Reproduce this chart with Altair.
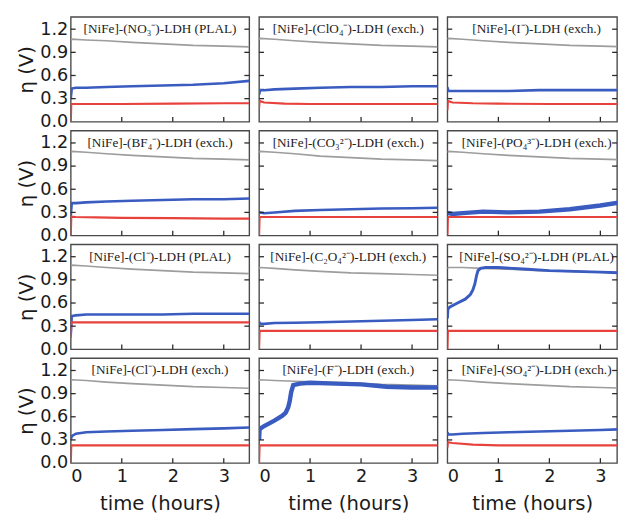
import altair as alt
import pandas as pd

# ---------------- data ----------------
LABELS = [
    "[NiFe]-(NO₃⁻)-LDH (PLAL)", "[NiFe]-(ClO₄⁻)-LDH (exch.)", "[NiFe]-(I⁻)-LDH (exch.)",
    "[NiFe]-(BF₄⁻)-LDH (exch.)", "[NiFe]-(CO₃²⁻)-LDH (exch.)", "[NiFe]-(PO₄³⁻)-LDH (exch.)",
    "[NiFe]-(Cl⁻)-LDH (PLAL)", "[NiFe]-(C₂O₄²⁻)-LDH (exch.)", "[NiFe]-(SO₄²⁻)-LDH (PLAL)",
    "[NiFe]-(Cl⁻)-LDH (exch.)", "[NiFe]-(F⁻)-LDH (exch.)", "[NiFe]-(SO₄²⁻)-LDH (exch.)",
]

T_GRAY = [0, 0.02, 0.3, 0.7, 1.2, 1.8, 2.4, 3.0, 3.5]
T_BLUE = [0, 0.02, 0.1, 0.3, 0.7, 1.2, 1.8, 2.4, 3.0, 3.5]
T_RED = [0, 0.01, 0.1, 0.5, 1, 2, 3, 3.5]
T_BLUE_SO4_PLAL = [0, 0.01, 0.05, 0.2, 0.35, 0.45, 0.5, 0.54, 0.57, 0.6, 0.65, 0.75,
                   1.0, 1.5, 2.0, 2.5, 3.0, 3.5]
T_BLUE_F = [0, 0.01, 0.1, 0.3, 0.45, 0.52, 0.57, 0.6, 0.63, 0.67, 0.8, 1.0,
            1.5, 2.0, 2.5, 3.0, 3.5]

GRAY_NO3 = [1.06, 1.07, 1.06, 1.05, 1.03, 1.01, 0.99, 0.98, 0.97]
GRAY_CLO4 = [1.07, 1.08, 1.07, 1.05, 1.03, 1.01, 0.99, 0.98, 0.97]
GRAY_I = [1.07, 1.08, 1.07, 1.05, 1.03, 1.01, 0.99, 0.98, 0.97]
GRAY_BF4 = [1.08, 1.09, 1.08, 1.06, 1.04, 1.02, 1.00, 0.99, 0.98]
GRAY_CO3 = [1.08, 1.09, 1.08, 1.06, 1.03, 1.01, 0.99, 0.98, 0.97]
GRAY_PO4 = [1.08, 1.09, 1.08, 1.06, 1.04, 1.02, 1.00, 0.99, 0.98]
GRAY_CL_PLAL = [1.08, 1.09, 1.08, 1.06, 1.04, 1.02, 1.00, 0.99, 0.98]
GRAY_C2O4 = [1.05, 1.06, 1.05, 1.03, 1.01, 0.99, 0.98, 0.97, 0.96]
GRAY_SO4_PLAL = [1.05, 1.06, 1.06, 1.05, 1.04, 1.02, 1.01, 1.00, 0.99]
GRAY_CL = [1.07, 1.08, 1.07, 1.05, 1.03, 1.01, 0.99, 0.98, 0.97]
GRAY_F = [1.07, 1.08, 1.07, 1.06, 1.05, 1.04, 1.02, 1.01, 1.00]
GRAY_SO4 = [1.07, 1.08, 1.07, 1.05, 1.03, 1.01, 0.99, 0.98, 0.97]

BLUE_NO3 = [0.30, 0.43, 0.44, 0.44, 0.45, 0.46, 0.47, 0.48, 0.50, 0.53]
BLUE_CLO4 = [0.35, 0.41, 0.41, 0.42, 0.43, 0.44, 0.45, 0.45, 0.46, 0.46]
BLUE_I = [0.45, 0.40, 0.40, 0.40, 0.40, 0.40, 0.41, 0.41, 0.41, 0.41]
BLUE_BF4 = [0.25, 0.42, 0.42, 0.43, 0.44, 0.45, 0.46, 0.47, 0.47, 0.48]
BLUE_CO3 = [0.30, 0.30, 0.29, 0.30, 0.32, 0.33, 0.34, 0.35, 0.355, 0.36]
BLUE_PO4 = [0.28, 0.29, 0.28, 0.29, 0.31, 0.30, 0.31, 0.34, 0.39, 0.44]
BLUE_CL_PLAL = [0.18, 0.43, 0.44, 0.45, 0.45, 0.45, 0.45, 0.46, 0.46, 0.46]
BLUE_C2O4 = [0.36, 0.33, 0.33, 0.34, 0.345, 0.35, 0.36, 0.37, 0.38, 0.39]
BLUE_SO4_PLAL = [0.40, 0.52, 0.55, 0.60, 0.65, 0.71, 0.77, 0.85, 0.95, 1.02, 1.05, 1.06,
                 1.06, 1.04, 1.02, 1.01, 1.00, 0.99]
BLUE_CL = [0.30, 0.35, 0.38, 0.40, 0.41, 0.42, 0.43, 0.44, 0.45, 0.46]
BLUE_F = [0.30, 0.44, 0.48, 0.55, 0.61, 0.65, 0.72, 0.80, 0.92, 1.01, 1.03, 1.04,
          1.03, 1.02, 0.99, 0.98, 0.98]
BLUE_SO4 = [0.40, 0.37, 0.37, 0.38, 0.39, 0.40, 0.41, 0.42, 0.43, 0.44]

RED_NO3 = [0, 0.23, 0.23, 0.23, 0.23, 0.235, 0.24, 0.24]
RED_CLO4 = [0.18, 0.27, 0.25, 0.235, 0.23, 0.23, 0.23, 0.23]
RED_I = [0.15, 0.27, 0.25, 0.24, 0.235, 0.23, 0.23, 0.23]
RED_BF4 = [0, 0.245, 0.24, 0.235, 0.23, 0.225, 0.22, 0.22]
RED_CO3 = [0, 0.24, 0.24, 0.24, 0.24, 0.24, 0.24, 0.24]
RED_PO4 = [0, 0.24, 0.24, 0.24, 0.24, 0.24, 0.24, 0.24]
RED_CL_PLAL = [0.15, 0.35, 0.35, 0.35, 0.35, 0.35, 0.35, 0.35]
RED_C2O4 = [0, 0.24, 0.24, 0.24, 0.24, 0.24, 0.24, 0.24]
RED_SO4_PLAL = [0, 0.24, 0.24, 0.24, 0.24, 0.24, 0.24, 0.24]
RED_CL = [0, 0.23, 0.23, 0.23, 0.23, 0.23, 0.23, 0.23]
RED_F = [0, 0.23, 0.23, 0.23, 0.23, 0.23, 0.23, 0.23]
RED_SO4 = [0.20, 0.27, 0.26, 0.24, 0.23, 0.23, 0.23, 0.23]

Y_TICKS = [0.0, 0.3, 0.6, 0.9, 1.2]
X_TICKS = [0, 1, 2, 3]

# ---------------- styling ----------------
GRAY = "#9d9d9d"
BLUE = "#3a5cc0"
RED = "#e8423d"
TICK = "#2a2a2a"
X_FULL = 3.5
PX_PER_HOUR = 182 / X_FULL
H = 107
TICK_LEN = 5

PANELS = [
    (GRAY_NO3, T_BLUE, BLUE_NO3, RED_NO3, 2.6),
    (GRAY_CLO4, T_BLUE, BLUE_CLO4, RED_CLO4, 2.6),
    (GRAY_I, T_BLUE, BLUE_I, RED_I, 2.6),
    (GRAY_BF4, T_BLUE, BLUE_BF4, RED_BF4, 2.6),
    (GRAY_CO3, T_BLUE, BLUE_CO3, RED_CO3, 2.6),
    (GRAY_PO4, T_BLUE, BLUE_PO4, RED_PO4, 4.5),
    (GRAY_CL_PLAL, T_BLUE, BLUE_CL_PLAL, RED_CL_PLAL, 2.6),
    (GRAY_C2O4, T_BLUE, BLUE_C2O4, RED_C2O4, 2.6),
    (GRAY_SO4_PLAL, T_BLUE_SO4_PLAL, BLUE_SO4_PLAL, RED_SO4_PLAL, 3.0),
    (GRAY_CL, T_BLUE, BLUE_CL, RED_CL, 2.6),
    (GRAY_F, T_BLUE_F, BLUE_F, RED_F, 4.5),
    (GRAY_SO4, T_BLUE, BLUE_SO4, RED_SO4, 2.6),
]


def make_panel(i):
    row, col = divmod(i, 3)
    gray, tb, blue, red, bw = PANELS[i]
    width = 182 if col < 2 else 173
    xmax = width / PX_PER_HOUR
    xs = alt.Scale(domain=[0, xmax], nice=False, zero=False)
    ys = alt.Scale(domain=[0, 1.36], nice=False)

    g = pd.DataFrame({"t": T_GRAY, "v": gray})
    b = pd.DataFrame({"t": tb, "v": blue})
    r = pd.DataFrame({"t": T_RED, "v": red})
    lab = pd.DataFrame({"t": [X_FULL / 2], "v": [Y_TICKS[-1]], "label": [LABELS[i]]})
    yt = pd.DataFrame({"v": Y_TICKS[1:]})
    xt = pd.DataFrame({"t": X_TICKS[1:]})

    xenc = dict(scale=xs)
    if row == 3:
        xenc["axis"] = alt.Axis(values=X_TICKS, format="d", ticks=False, domain=False,
                                grid=False, labelOverlap=False, labelPadding=5,
                                titlePadding=8, title="time (hours)")
    else:
        xenc["axis"] = None
    yenc = dict(scale=ys)
    if col == 0:
        yenc["axis"] = alt.Axis(values=Y_TICKS, format=".1f", ticks=False, domain=False,
                                grid=False, labelOverlap=False, labelPadding=3,
                                titlePadding=3, title="η (V)")
    else:
        yenc["axis"] = None

    gl = alt.Chart(g).mark_line(color=GRAY, strokeWidth=1.7, clip=True).encode(
        x=alt.X("t:Q", **xenc),
        y=alt.Y("v:Q", **yenc),
    )
    bl = alt.Chart(b).mark_line(color=BLUE, strokeWidth=bw, clip=True).encode(
        x=alt.X("t:Q", **xenc),
        y=alt.Y("v:Q", **yenc),
    )
    rl = alt.Chart(r).mark_line(color=RED, strokeWidth=2.2, clip=True).encode(
        x=alt.X("t:Q", **xenc),
        y=alt.Y("v:Q", **yenc),
    )
    # inward tick marks on left, right and bottom edges
    lt = alt.Chart(yt).mark_rule(color=TICK, strokeWidth=1.3).encode(
        y=alt.Y("v:Q", **yenc), x=alt.value(0), x2=alt.value(TICK_LEN))
    rt = alt.Chart(yt).mark_rule(color=TICK, strokeWidth=1.3).encode(
        y=alt.Y("v:Q", **yenc), x=alt.value(width - TICK_LEN), x2=alt.value(width))
    bt = alt.Chart(xt).mark_rule(color=TICK, strokeWidth=1.3).encode(
        x=alt.X("t:Q", **xenc), y=alt.value(H), y2=alt.value(H - TICK_LEN))
    tx = alt.Chart(lab).mark_text(font="Liberation Serif", fontSize=13.5, color="#222222",
                                  baseline="middle", align="center").encode(
        x=alt.X("t:Q", **xenc),
        y=alt.Y("v:Q", **yenc),
        text="label:N",
    )
    return alt.layer(gl, bl, rl, lt, rt, bt, tx).properties(width=width, height=H)


panels = [make_panel(i) for i in range(12)]

chart = alt.concat(*panels, columns=3, spacing={"row": 9, "column": 10},
                   bounds="flush").properties(
    padding={"left": 8, "top": 3, "right": 0, "bottom": 0}
).configure_view(
    stroke="#4a4a4a", strokeWidth=1.4
).configure_axis(
    labelFont="DejaVu Sans", labelFontSize=18, labelColor="#1a1a1a",
    titleFont="DejaVu Sans", titleFontSize=20, titleFontWeight="normal",
    titleColor="#1a1a1a", labelOverlap=False,
)

chart.save("out.html", embed_options={"renderer": "svg", "actions": False})
